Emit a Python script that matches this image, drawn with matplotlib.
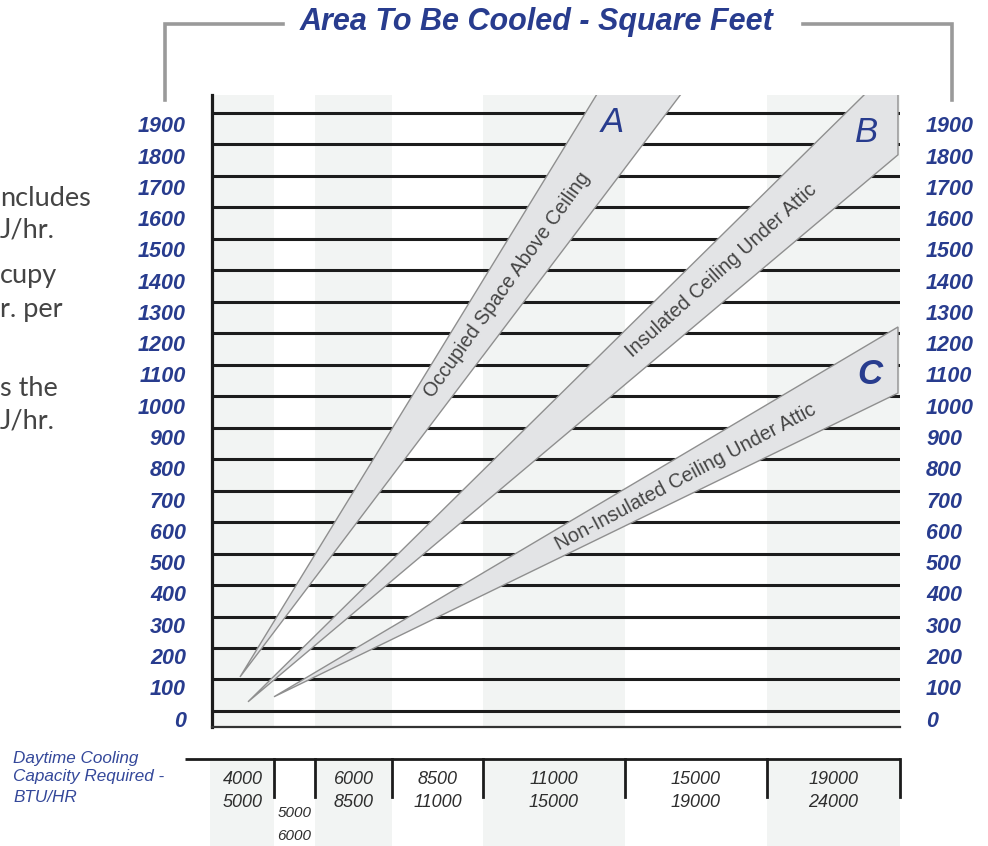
import matplotlib
matplotlib.use("Agg")
import matplotlib.pyplot as plt
from matplotlib.patches import Polygon
from matplotlib.transforms import blended_transform_factory

plt.rcParams['font.family'] = ['Liberation Sans', 'DejaVu Sans']

# ---------------- data ----------------
SQFT_VALUES = list(range(0, 2000, 100))
BTU_LOW = [4000, 5000, 6000, 8500, 11000, 15000, 19000]
BTU_HIGH = [5000, 6000, 8500, 11000, 15000, 19000, 24000]

TITLE = "Area To Be Cooled - Square Feet"
XLABEL_LINES = ["Daytime Cooling", "Capacity Required -", "BTU/HR"]

WEDGE_LETTERS = ["A", "B", "C"]
WEDGE_NAMES = ["Occupied Space Above Ceiling",
               "Insulated Ceiling Under Attic",
               "Non-Insulated Ceiling Under Attic"]
# wedge outlines: x in chart units (column scale), y in square feet
WEDGE_A_X = [28, 385, 469]
WEDGE_A_Y = [108, 1960, 1960]
WEDGE_B_X = [36, 653, 686, 686]
WEDGE_B_Y = [29, 1960, 1960, 1767]
WEDGE_C_X = [62, 686, 686]
WEDGE_C_Y = [45, 1220, 1010]

# visible fragments of the neighbouring page column
SIDE_TEXT = ["ncludes", "J/hr.", "cupy", "r. per", "s the", "J/hr."]

# ---------------- layout / style ----------------
W, H = 988, 846
COL_EDGES = [0, 62, 103, 180, 271, 413, 555, 688]   # chart x units
BLUE = "#283c8e"
BLUE2 = "#34489a"
SHADE = "#f2f4f3"
LINE = "#1c1c1c"
WEDGE_FILL = "#e3e4e6"
WEDGE_EDGE = "#8f8f8f"
BRACKET = "#9a9a9a"

fig = plt.figure(figsize=(W / 100, H / 100), dpi=100)

# overlay in pixel coordinates for decorations
deco = fig.add_axes([0, 0, 1, 1], zorder=0)
deco.set_xlim(0, W)
deco.set_ylim(H, 0)
deco.axis("off")

# main chart
left_px, right_px, top_px, bot_px = 212, 900, 95, 727
ax = fig.add_axes([left_px / W, (H - bot_px) / H, (right_px - left_px) / W,
                   (bot_px - top_px) / H], zorder=2)
ax.set_xlim(0, COL_EDGES[-1])
ax.set_ylim(-51, 1957)
ax.set_xticks([])
ax.set_yticks([])
for s in ["top", "right"]:
    ax.spines[s].set_visible(False)
ax.spines["left"].set_linewidth(2.3)
ax.spines["left"].set_color(LINE)
ax.spines["bottom"].set_linewidth(1.6)
ax.spines["bottom"].set_color("#333333")

for i in range(0, len(COL_EDGES) - 1, 2):
    ax.axvspan(COL_EDGES[i], COL_EDGES[i + 1], color=SHADE, lw=0, zorder=0)

ax.hlines(SQFT_VALUES, 0, COL_EDGES[-1], color=LINE, lw=2.2, zorder=2)

wedges = [(WEDGE_A_X, WEDGE_A_Y), (WEDGE_B_X, WEDGE_B_Y), (WEDGE_C_X, WEDGE_C_Y)]
for xs, ys in wedges:
    poly = Polygon(list(zip(xs, ys)), closed=True, facecolor=WEDGE_FILL,
                   edgecolor=WEDGE_EDGE, lw=1.0, zorder=3)
    ax.add_patch(poly)

# wedge names and letters
top = fig.add_axes([0, 0, 1, 1], zorder=3)
top.set_xlim(0, W)
top.set_ylim(H, 0)
top.axis("off")
name_pos = [(507, 285, 54.5), (721, 271, 42.0), (686, 477, 28.0)]
for name, (x, y, r) in zip(WEDGE_NAMES, name_pos):
    top.text(x, y, name, rotation=r, rotation_mode="anchor", ha="center",
             va="center", fontsize=14.2, color="#444444")
letter_pos = [(612, 122, "normal"), (866, 133, "normal"), (870, 375, "bold")]
for letter, (x, y, wgt) in zip(WEDGE_LETTERS, letter_pos):
    top.text(x, y, letter, ha="center", va="center", fontsize=25,
             style="italic", fontweight=wgt, color=BLUE)

# y labels on both sides
tr = blended_transform_factory(ax.transAxes, ax.transData)
for v in SQFT_VALUES:
    off = 32 + 12 * v / 1900
    ax.text(-0.0378, v - off, str(v), transform=tr, ha="right", va="center",
            fontsize=15.5, fontweight="bold", style="italic", color=BLUE,
            clip_on=False)
    ax.text(1.0378, v - off, str(v), transform=tr, ha="left", va="center",
            fontsize=15.5, fontweight="bold", style="italic", color=BLUE,
            clip_on=False)

# bottom category strip
b_top = 759
axb = fig.add_axes([left_px / W, 0, (right_px - left_px) / W, (H - b_top) / H],
                   zorder=1)
axb.set_xlim(0, COL_EDGES[-1])
axb.set_ylim(H - b_top, 0)
axb.axis("off")
for i in range(0, len(COL_EDGES) - 1, 2):
    axb.fill_between([COL_EDGES[i] - (2 if i == 0 else 0), COL_EDGES[i + 1]],
                     1, H - b_top, color=SHADE, lw=0, zorder=0, clip_on=False)
axb.plot([-27, COL_EDGES[-1]], [0, 0], color=LINE, lw=2.0, clip_on=False,
         solid_capstyle="butt")
for e in COL_EDGES[1:]:
    axb.plot([e, e], [0, 38], color=LINE, lw=2.0, clip_on=False)
for i, (lo, hi) in enumerate(zip(BTU_LOW, BTU_HIGH)):
    cx = (COL_EDGES[i] + COL_EDGES[i + 1]) / 2
    if i == 1:
        axb.text(cx, 54, str(lo), ha="center", va="center", fontsize=11,
                 style="italic", color="#2e2e2e")
        axb.text(cx, 77, str(hi), ha="center", va="center", fontsize=11,
                 style="italic", color="#2e2e2e")
    else:
        axb.text(cx, 20, str(lo), ha="center", va="center", fontsize=13,
                 style="italic", color="#2e2e2e")
        axb.text(cx, 43, str(hi), ha="center", va="center", fontsize=13,
                 style="italic", color="#2e2e2e")

for line, y in zip(XLABEL_LINES, [758, 777, 797]):
    deco.text(13, y, line, ha="left", va="center", fontsize=12.3,
              style="italic", color=BLUE2)

# title and bracket
deco.plot([165, 165, 283], [100, 24, 24], color=BRACKET, lw=2.6,
          solid_joinstyle="miter")
deco.plot([803, 952, 952], [24, 24, 100], color=BRACKET, lw=2.6,
          solid_joinstyle="miter")
deco.text(536, 22, TITLE, ha="center", va="center", fontsize=22,
          fontweight="bold", style="italic", color=BLUE)

# fragments of the neighbouring text column at the left page edge
side_pos = [(0, 198), (0, 230), (0, 276), (0, 310), (0, 388), (0, 421)]
for t, (x, y) in zip(SIDE_TEXT, side_pos):
    deco.text(x, y, t, ha="left", va="center", fontsize=19.5,
              family=["Lato", "DejaVu Sans"], fontweight="normal",
              color="#444444")

fig.savefig("out.png", dpi=100)
